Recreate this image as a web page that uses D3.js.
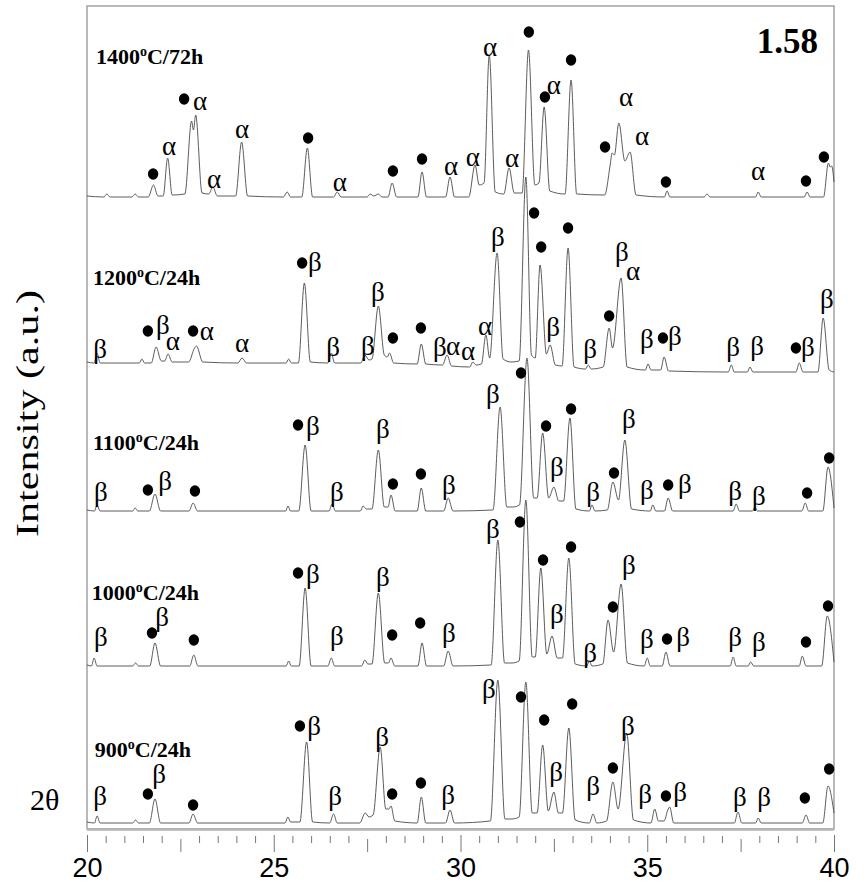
<!DOCTYPE html>
<html><head><meta charset="utf-8">
<script src="https://cdn.jsdelivr.net/npm/d3@7"></script>
<style>body{margin:0;background:#fff}</style>
</head><body>
<svg id="c" width="866" height="882"></svg>
<script>
// ---------------- DATA ----------------
const temps = ["1400", "1200", "1100", "1000", "900"];
const times = ["72h", "24h", "24h", "24h", "24h"];
// stacking offset of every pattern (intensity units, a.u.)
const offsets = [632, 462, 318, 163, 6];
// label anchor (2θ, intensity above own baseline)
const labelAt = [[20.24, 133], [20.16, 82], [20.16, 61], [20.13, 66], [20.21, 66]];
const sampleTag = "1.58";
const majorTicks = [20, 25, 30, 35, 40];

// patterns: [2θ, intensity above baseline]
const p1400 = [
[20.0,1],[20.45,0],[20.53,3],[20.62,0],[21.2,0],[21.29,3],[21.38,0],
[21.64,0],[21.78,12],[21.9,1],[22.04,1],[22.16,39],[22.28,2],
[22.62,3],[22.8,76],[22.85,67],[22.91,82],[23.08,4],
[23.26,3],[23.37,10],[23.49,1],
[23.98,1],[24.14,55],[24.3,1],
[25.26,0],[25.36,5],[25.45,0],
[25.75,0],[25.9,49],[26.04,0],
[26.6,0],[26.7,5],[26.8,0],
[27.5,0],[27.58,3],[27.68,1],[27.8,3],[27.9,0],
[28.06,0],[28.17,14],[28.29,0],
[28.86,0],[28.97,25],[29.09,0],
[29.6,0],[29.72,20],[29.84,0],
[30.22,0],[30.39,32],[30.5,12],
[30.63,14],[30.77,142],[30.93,5],
[31.16,3],[31.3,29],[31.44,4],
[31.65,4],[31.82,147],[31.99,12],
[32.1,14],[32.24,90],[32.39,6],
[32.8,3],[32.96,117],[33.11,3],
[33.86,2],[34.0,30],[34.06,44],[34.12,42],[34.24,74],[34.4,36],[34.54,45],[34.7,2],
[35.46,0],[35.53,6],[35.61,0],
[36.52,0],[36.6,3],[36.68,0],
[37.9,0],[37.97,5],[38.05,0],
[39.2,0],[39.28,5],[39.36,0],
[39.72,0],[39.85,34],[39.9,30],[39.94,31],[40.0,15]
];
const p1200 = [
[20.0,5],[20.19,4],[20.27,14],[20.35,4],
[21.4,4],[21.47,8],[21.54,4],
[21.72,4],[21.85,20],[21.99,6],[22.08,6],[22.17,13],[22.28,5],
[22.72,5],[22.88,19],[22.93,21],[23.1,5],
[24.04,4],[24.15,9],[24.27,4],
[25.33,4],[25.4,8],[25.47,4],
[25.66,4],[25.82,84],[25.98,5],
[26.45,4],[26.54,14],[26.63,4],
[27.33,4],[27.44,12],[27.55,7],
[27.63,8],[27.8,61],[27.96,12],[28.04,10],[28.1,14],[28.21,4],
[28.84,3],[28.95,23],[29.07,3],
[29.52,2],[29.64,12],[29.76,1],
[30.25,0],[30.33,5],[30.42,2],
[30.56,3],[30.68,32],[30.78,9],[30.98,114],[31.14,8],
[31.35,5],[31.57,6],[31.75,190],[31.9,12],
[32.0,9],[32.13,102],[32.3,13],[32.4,22],[32.54,2],
[32.72,1],[32.88,119],[33.04,0],
[33.35,-2],[33.42,2],[33.5,-2],
[33.82,0],[33.98,39],[34.07,19],[34.3,89],[34.46,0],
[34.95,-3],[35.02,3],[35.1,-3],
[35.36,-3],[35.45,10],[35.57,-4],
[37.17,-5],[37.25,2],[37.33,-5],
[37.68,-5],[37.75,0],[37.83,-5],
[38.98,-5],[39.07,4],[39.17,-5],
[39.57,-5],[39.71,49],[39.87,-3],[40.0,-5]
];
const p1100 = [
[20.0,1],[20.2,0],[20.27,6],[20.35,0],
[21.22,0],[21.29,3],[21.36,0],
[21.67,0],[21.82,17],[21.97,0],
[22.73,0],[22.84,8],[22.96,0],
[25.32,0],[25.38,5],[25.45,0],
[25.67,0],[25.84,66],[26.0,0],
[26.48,0],[26.56,7],[26.65,0],
[27.32,0],[27.39,5],[27.48,2],
[27.63,2],[27.8,61],[27.96,4],[28.06,4],[28.14,16],[28.25,0],
[28.84,0],[28.95,23],[29.07,0],
[29.55,0],[29.67,13],[29.8,0],
[30.87,1],[31.06,104],[31.24,4],
[31.4,4],[31.58,6],[31.78,153],[31.96,13],
[32.05,13],[32.2,78],[32.36,13],[32.5,24],[32.63,10],
[32.76,10],[32.93,93],[33.09,2],
[33.45,0],[33.52,6],[33.6,0],
[33.93,1],[34.08,29],[34.23,11],[34.4,71],[34.58,2],
[35.08,0],[35.15,6],[35.23,0],
[35.46,0],[35.56,13],[35.68,0],
[37.3,0],[37.38,7],[37.47,0],
[37.82,0],[37.88,4],[37.95,0],
[39.14,0],[39.23,8],[39.32,0],
[39.7,0],[39.84,44],[40.0,3]
];
const p1000 = [
[20.0,1],[20.12,0],[20.19,8],[20.27,0],
[21.22,0],[21.3,3],[21.38,0],
[21.68,0],[21.82,23],[21.97,0],
[22.75,0],[22.86,11],[22.97,0],
[25.33,0],[25.4,5],[25.47,0],
[25.68,0],[25.84,78],[26.0,0],
[26.45,0],[26.54,8],[26.63,0],
[27.35,0],[27.44,6],[27.52,2],
[27.63,2],[27.8,73],[27.97,3],[28.07,3],[28.14,8],[28.24,0],
[28.86,0],[28.97,23],[29.09,0],
[29.55,0],[29.67,15],[29.8,0],
[30.82,1],[31.0,126],[31.18,3],
[31.38,3],[31.57,5],[31.75,166],[31.92,9],
[32.0,9],[32.15,98],[32.31,12],[32.45,30],[32.59,8],
[32.73,8],[32.9,108],[33.07,2],
[33.38,0],[33.45,5],[33.52,0],
[33.81,2],[33.95,46],[34.1,14],[34.3,82],[34.47,3],
[34.92,0],[35.0,8],[35.08,0],
[35.4,0],[35.5,14],[35.61,0],
[37.22,0],[37.3,9],[37.38,0],
[37.7,0],[37.77,4],[37.85,0],
[39.07,0],[39.15,10],[39.25,0],
[39.67,0],[39.82,50],[40.0,4]
];
const p900 = [
[20.0,1],[20.2,0],[20.27,7],[20.35,0],
[21.22,0],[21.3,3],[21.38,0],
[21.67,0],[21.82,24],[21.97,0],
[22.73,0],[22.84,9],[22.96,0],
[25.3,0],[25.38,6],[25.45,1],
[25.7,1],[25.88,81],[26.04,1],
[26.5,0],[26.6,9],[26.7,0],
[27.3,0],[27.45,10],[27.55,6],
[27.66,8],[27.85,76],[28.0,14],[28.08,14],[28.14,17],[28.24,2],
[28.84,0],[28.95,26],[29.07,0],
[29.6,0],[29.72,13],[29.84,0],
[30.8,2],[31.0,143],[31.19,4],
[31.38,4],[31.57,6],[31.75,141],[31.92,10],
[32.05,10],[32.2,78],[32.35,12],[32.5,31],[32.62,10],
[32.73,10],[32.9,95],[33.07,3],
[33.45,0],[33.55,9],[33.65,0],
[33.91,2],[34.08,41],[34.22,14],[34.45,90],[34.63,3],
[35.1,0],[35.2,14],[35.3,2],
[35.45,2],[35.55,13],[35.6,16],[35.71,0],
[37.33,0],[37.43,11],[37.53,0],
[37.9,0],[37.97,5],[38.05,0],
[39.15,0],[39.25,8],[39.35,0],
[39.7,0],[39.84,37],[40.0,10]
];

// phase marks: [2θ, height above own baseline, phase] d = ●, a = α, b = β
const m1400 = [
[21.77,23,"d"],[22.2,50,"a"],[22.6,98,"d"],[23.03,95,"a"],[23.4,17,"a"],[24.15,67,"a"],
[25.92,59,"d"],[26.77,14,"a"],[28.19,26,"d"],[28.97,38,"d"],[29.75,30,"a"],[30.33,39,"a"],
[30.79,149,"a"],[31.38,38,"a"],[31.83,165,"d"],[32.26,100,"d"],[32.5,111,"a"],[32.96,137,"d"],
[33.87,50,"d"],[34.43,99,"a"],[34.86,60,"a"],[35.5,15,"d"],[37.97,25,"a"],[39.25,16,"d"],[39.73,40,"d"]
];
const m1200 = [
[20.35,17,"b"],[21.63,36,"d"],[22.03,41,"b"],[22.3,25,"a"],[22.84,36,"d"],[23.21,35,"a"],
[24.15,23,"a"],[25.76,104,"d"],[26.1,104,"b"],[26.59,19,"b"],[27.52,20,"b"],[27.79,74,"b"],
[28.19,29,"d"],[28.94,39,"d"],[29.45,19,"b"],[29.8,20,"a"],[30.2,15,"a"],[30.66,40,"a"],
[31.0,129,"b"],[31.97,154,"d"],[32.16,120,"d"],[32.48,39,"b"],[32.88,139,"d"],[33.47,17,"b"],
[33.98,51,"d"],[34.32,114,"b"],[34.62,95,"a"],[34.99,27,"b"],[35.42,29,"d"],[35.74,30,"b"],
[37.3,19,"b"],[37.94,20,"b"],[38.98,19,"d"],[39.3,19,"b"],[39.81,67,"b"]
];
const m1100 = [
[20.37,18,"b"],[21.63,21,"d"],[22.09,29,"b"],[22.89,20,"d"],[25.65,86,"d"],[26.05,84,"b"],
[26.69,18,"b"],[27.92,81,"b"],[28.19,27,"d"],[28.94,37,"d"],[29.69,25,"b"],[30.87,116,"b"],
[31.62,138,"d"],[32.29,85,"d"],[32.58,43,"b"],[32.96,102,"d"],[33.55,18,"b"],[34.11,38,"d"],
[34.51,91,"b"],[34.99,20,"b"],[35.56,26,"d"],[36.01,26,"b"],[37.35,19,"b"],[37.99,14,"b"],
[39.28,18,"d"],[39.87,53,"d"]
];
const m1000 = [
[20.37,28,"b"],[21.74,33,"d"],[22.01,48,"b"],[22.86,26,"d"],[25.65,93,"d"],[26.05,91,"b"],
[26.69,29,"b"],[27.92,88,"b"],[28.17,31,"d"],[28.92,43,"d"],[29.69,32,"b"],[30.87,136,"b"],
[31.59,144,"d"],[32.21,106,"d"],[32.58,51,"b"],[32.96,119,"d"],[33.47,12,"b"],[34.08,59,"d"],
[34.51,100,"b"],[34.99,26,"b"],[35.53,27,"d"],[35.96,28,"b"],[37.35,28,"b"],[37.99,23,"b"],
[39.25,24,"d"],[39.84,60,"d"]
];
const m900 = [
[20.35,26,"b"],[21.63,29,"d"],[21.93,48,"b"],[22.84,18,"d"],[25.7,97,"d"],[26.08,96,"b"],
[26.64,26,"b"],[27.9,85,"b"],[28.17,29,"d"],[28.94,40,"d"],[29.67,27,"b"],[30.76,133,"b"],
[31.62,126,"d"],[32.24,103,"d"],[32.56,50,"b"],[32.99,119,"d"],[33.55,36,"b"],[34.08,55,"d"],
[34.48,96,"b"],[34.94,28,"b"],[35.5,27,"d"],[35.88,30,"b"],[37.48,25,"b"],[38.13,25,"b"],
[39.22,25,"d"],[39.87,54,"d"]
];

const patterns = [p1400, p1200, p1100, p1000, p900];
const marks = [m1400, m1200, m1100, m1000, m900];

// ---------------- DRAW ----------------
const svg = d3.select("#c");
const x = d3.scaleLinear().domain([20, 40]).range([87, 834]);
const y = d3.scaleLinear().domain([0, 823]).range([829, 6]);

// frame
svg.append("rect")
  .attr("x", x(20)).attr("y", y(823))
  .attr("width", x(40) - x(20)).attr("height", y(0) - y(823))
  .attr("fill", "none").attr("stroke", "#9c9c9c").attr("stroke-width", 1.4);
svg.append("line")
  .attr("x1", x(20)).attr("x2", x(40)).attr("y1", y(0) + 0.5).attr("y2", y(0) + 0.5)
  .attr("stroke", "#b4b4b4").attr("stroke-width", 2.6);

// axis (ticks below the frame)
const axY = 835;
const minor = d3.range(20, 40.001, 0.5).filter(v => Math.abs(v % 2.5) > 1e-6 && Math.abs(v % 2.5 - 2.5) > 1e-6);
const mid = d3.range(22.5, 40, 5);
const gMin = svg.append("g").attr("transform", `translate(0,${axY + 1})`)
  .call(d3.axisBottom(x).tickValues(minor).tickSize(7).tickFormat(""));
const gMid = svg.append("g").attr("transform", `translate(0,${axY + 4})`)
  .call(d3.axisBottom(x).tickValues(mid).tickSize(13).tickFormat(""));
const gMaj = svg.append("g").attr("transform", `translate(0,${axY})`)
  .call(d3.axisBottom(x).tickValues(majorTicks).tickSize(17).tickPadding(6).tickFormat(d3.format("d")));
[gMin, gMid, gMaj].forEach(g => {
  g.select(".domain").remove();
  g.selectAll("line").attr("stroke", "#777").attr("stroke-width", 1);
});
gMaj.selectAll("text")
  .attr("font-family", "'Liberation Sans', Arial, sans-serif")
  .attr("font-size", 27).attr("fill", "#000");

// patterns
const line = d3.line()
  .x(d => x(d[0]))
  .curve(d3.curveMonotoneX);
patterns.forEach((p, i) => {
  svg.append("path")
    .datum(p)
    .attr("d", line.y(d => y(offsets[i] + d[1])))
    .attr("fill", "none")
    .attr("stroke", "#4a4a4a")
    .attr("stroke-width", 0.9)
    .attr("stroke-linejoin", "round");
});

// marks
const glyph = {a: "\u03b1", b: "\u03b2"};
marks.forEach((m, i) => {
  const g = svg.append("g");
  m.forEach(d => {
    const cx = x(d[0]), cy = y(offsets[i] + d[1]);
    if (d[2] === "d") {
      g.append("ellipse").attr("cx", cx).attr("cy", cy).attr("rx", 5.2).attr("ry", 5.7).attr("fill", "#000");
    } else {
      g.append("text").attr("x", cx).attr("y", cy).attr("dy", "0.3em")
        .attr("text-anchor", "middle")
        .attr("font-family", "'Liberation Serif', 'Times New Roman', serif")
        .attr("font-size", 27).attr("fill", "#000")
        .text(glyph[d[2]]);
    }
  });
});

// pattern labels
temps.forEach((t, i) => {
  const txt = svg.append("text")
    .attr("x", x(labelAt[i][0])).attr("y", y(offsets[i] + labelAt[i][1]))
    .attr("font-family", "'Liberation Serif', 'Times New Roman', serif")
    .attr("font-weight", "bold").attr("font-size", 22).attr("fill", "#000");
  txt.append("tspan").text(t);
  txt.append("tspan").attr("font-size", 14).attr("dy", -8).text("o");
  txt.append("tspan").attr("dy", 8).text("C/" + times[i]);
});

// sample tag
svg.append("text")
  .attr("x", x(39.57)).attr("y", 53)
  .attr("text-anchor", "end")
  .attr("font-family", "'Liberation Serif', 'Times New Roman', serif")
  .attr("font-weight", "bold").attr("font-size", 35).attr("fill", "#000")
  .text(sampleTag);

// axis titles
svg.append("text")
  .attr("transform", "translate(38,0) rotate(-90)")
  .attr("x", -537).attr("y", 0)
  .attr("textLength", 247).attr("lengthAdjust", "spacingAndGlyphs")
  .attr("font-family", "'Liberation Serif', 'Times New Roman', serif")
  .attr("font-size", 32).attr("fill", "#000")
  .text("Intensity (a.u.)");
svg.append("text")
  .attr("x", 30).attr("y", 810)
  .attr("font-family", "'Liberation Serif', 'Times New Roman', serif")
  .attr("font-size", 30).attr("fill", "#000")
  .text("2\u03b8");
</script>
</body></html>
